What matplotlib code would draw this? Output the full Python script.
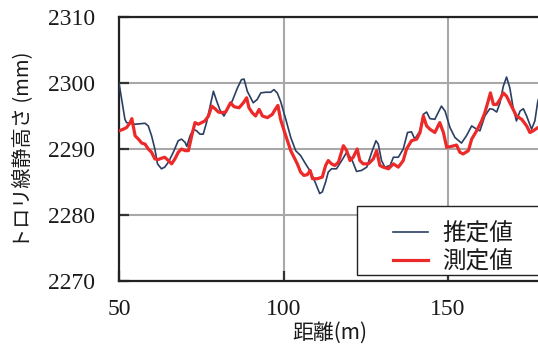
import matplotlib
matplotlib.use("Agg")
import matplotlib.pyplot as plt
from matplotlib.patches import Rectangle

# Estimated contact-wire height along the line
est_x = [50.0, 51.8, 52.3, 54.9, 57.9, 58.9, 59.9, 60.9, 61.7, 62.9, 63.9, 65.0, 66.5, 68.0,
         69.0, 70.1, 70.6, 71.6, 72.6, 73.6, 74.6, 75.6, 76.6, 77.7, 78.7, 79.7, 80.7, 81.9,
         82.9, 84.4, 86.0, 87.2, 88.0, 89.0, 90.8, 92.0, 93.1, 94.6, 96.1, 97.1, 98.1, 99.1,
         100.7, 102.2, 103.7, 105.2, 106.7, 108.3, 109.8, 111.0, 111.8, 112.8, 113.6, 114.6,
         116.1, 117.7, 119.2, 120.7, 122.2, 123.7, 125.3, 126.8, 128.1, 128.8, 129.8, 130.8,
         132.4, 133.4, 134.9, 136.4, 137.7, 138.9, 139.9, 141.5, 142.5, 143.5, 144.5, 146.0,
         148.0, 149.1, 150.6, 152.1, 154.1, 155.6, 157.2, 158.7, 159.7, 161.2, 162.7, 163.7,
         164.8, 165.8, 166.8, 167.8, 168.8, 169.8, 170.8, 171.9, 172.9, 173.9, 175.4, 176.4,
         177.3, 178.5]
est_y = [2300.0, 2294.5, 2294.0, 2293.75, 2293.9, 2293.5, 2292.0, 2290.0, 2287.75, 2287.0,
         2287.25, 2288.0, 2289.5, 2291.25, 2291.5, 2291.0, 2290.4, 2292.0, 2293.0, 2292.75,
         2292.25, 2292.25, 2294.0, 2296.5, 2298.75, 2297.25, 2295.9, 2295.0, 2296.0, 2297.25,
         2299.25, 2300.5, 2300.6, 2298.75, 2297.0, 2297.5, 2298.5, 2298.6, 2298.6, 2299.0,
         2298.5, 2297.25, 2294.5, 2291.75, 2289.75, 2289.0, 2287.75, 2286.5, 2284.75, 2283.25,
         2283.5, 2285.0, 2286.5, 2287.0, 2287.0, 2288.25, 2289.5, 2288.5, 2286.6, 2286.75,
         2287.25, 2289.5, 2291.25, 2290.75, 2288.25, 2287.25, 2287.5, 2288.75, 2288.75, 2290.0,
         2292.5, 2292.6, 2291.5, 2292.75, 2295.25, 2295.6, 2294.6, 2294.5, 2296.5, 2295.75,
         2293.25, 2291.75, 2290.9, 2292.0, 2293.5, 2293.0, 2292.75, 2295.0, 2296.1, 2296.0,
         2295.6, 2297.0, 2299.5, 2300.9, 2299.25, 2296.25, 2294.25, 2295.75, 2296.1, 2295.0,
         2293.0, 2294.25, 2297.25, 2299.0]

# Measured contact-wire height
meas_x = [50.0, 51.3, 52.3, 53.4, 53.9, 54.9, 55.9, 56.9, 57.9, 58.9, 59.9, 60.9, 61.9, 62.9,
          63.9, 65.0, 66.0, 67.0, 68.0, 69.0, 70.1, 71.1, 72.1, 73.1, 74.1, 75.1, 76.1, 77.2,
          78.2, 79.2, 80.2, 81.2, 82.4, 83.9, 85.0, 86.5, 87.8, 88.8, 89.5, 90.5, 91.5, 92.6,
          93.6, 95.1, 96.6, 97.6, 98.3, 99.1, 100.2, 101.2, 102.2, 103.2, 104.2, 105.2, 106.2,
          107.2, 108.1, 108.8, 110.3, 111.8, 112.8, 113.6, 114.6, 115.6, 116.7, 118.2, 119.2,
          120.2, 121.2, 122.4, 123.2, 124.2, 125.8, 127.3, 128.3, 129.3, 130.3, 131.9, 133.4,
          134.9, 136.4, 137.4, 138.9, 140.5, 141.5, 142.5, 143.5, 144.5, 146.0, 147.5, 148.6,
          149.6, 151.1, 152.6, 153.6, 154.6, 156.2, 157.2, 158.7, 160.2, 161.2, 162.2, 162.9,
          163.8, 164.8, 165.8, 166.8, 167.8, 168.8, 169.8, 170.8, 172.4, 173.9, 174.9, 175.9,
          177.3, 178.5]
meas_y = [2292.75, 2293.0, 2293.25, 2294.0, 2294.6, 2292.0, 2291.5, 2290.9, 2290.75, 2290.0,
          2289.5, 2288.5, 2288.4, 2288.6, 2288.75, 2288.25, 2287.75, 2288.5, 2289.5, 2290.0,
          2289.75, 2289.75, 2292.0, 2294.0, 2293.75, 2294.0, 2294.25, 2295.0, 2296.5, 2296.1,
          2295.6, 2295.5, 2295.6, 2297.0, 2296.4, 2296.25, 2297.0, 2297.75, 2296.25, 2295.5,
          2295.0, 2296.0, 2295.0, 2294.75, 2295.25, 2296.1, 2296.6, 2294.5, 2292.75, 2291.25,
          2289.75, 2288.75, 2287.75, 2286.5, 2286.0, 2286.1, 2286.75, 2285.5, 2285.5, 2285.75,
          2287.5, 2288.25, 2287.75, 2287.5, 2288.0, 2290.5, 2289.75, 2288.25, 2288.75, 2290.0,
          2288.25, 2287.75, 2287.75, 2288.5, 2289.75, 2287.5, 2287.25, 2287.0, 2287.75, 2287.25,
          2288.25, 2290.0, 2291.25, 2291.5, 2292.5, 2295.0, 2293.5, 2293.0, 2292.5, 2294.0,
          2292.5, 2290.25, 2290.4, 2290.6, 2289.5, 2289.25, 2289.75, 2291.5, 2292.75, 2294.25,
          2295.5, 2297.25, 2298.5, 2296.75, 2296.75, 2297.5, 2298.5, 2298.0, 2297.0, 2296.0,
          2295.0, 2294.5, 2293.5, 2292.5, 2292.75, 2293.25, 2293.5]

x_ticks = [50, 100, 150]
y_ticks = [2270, 2280, 2290, 2300, 2310]
series_labels = ["推定値", "測定値"]
x_label = "距離(m)"
y_label = "トロリ線静高さ (mm)"

W, H = 538, 347
fig = plt.figure(figsize=(W / 100, H / 100), dpi=100)
ax_left, ax_top, ax_bottom = 119, 17, 281
x_min, x_max = 50, 180
px_per_unit = (448 - 119) / 100.0
ax_w = (x_max - x_min) * px_per_unit
ax = fig.add_axes([ax_left / W, 1 - ax_bottom / H, ax_w / W, (ax_bottom - ax_top) / H])

ax.plot(est_x, est_y, color="#2b3f63", lw=1.2, zorder=3)
ax.plot(meas_x, meas_y, color="#ec2a2a", lw=2.3, zorder=4)

ax.set_xlim(x_min, x_max)
ax.set_ylim(2270, 2310)
ax.set_xticks(x_ticks)
ax.set_yticks(y_ticks)
ax.grid(True, color="#a8a8a8", lw=1.5)
ax.set_axisbelow(True)
for s in ["left", "top", "bottom"]:
    ax.spines[s].set_linewidth(1.6)
    ax.spines[s].set_color("#222222")
ax.spines["right"].set_visible(False)
ax.tick_params(direction="in", length=7, width=1.6, color="#333333")

serif = ["Liberation Serif", "DejaVu Serif"]
for lab in ax.get_xticklabels() + ax.get_yticklabels():
    lab.set_family(serif)
    lab.set_fontsize(17)
    lab.set_color("#1a1a1a")
ax.tick_params(axis="x", pad=13)
ax.tick_params(axis="y", pad=17)

cjk = ["Noto Sans CJK JP", "DejaVu Sans"]
fig.text(330 / W, 1 - 333 / H, x_label, family=cjk, fontsize=15, ha="center", va="center",
         color="#1a1a1a")
fig.text(23 / W, 1 - 150 / H, y_label, family=cjk, fontsize=14.5, rotation=90,
         ha="center", va="center", color="#1a1a1a")

# Legend box
fig.patches.append(Rectangle((357 / W, 1 - 275 / H), 200 / W, 69 / H, transform=fig.transFigure,
                             facecolor="white", edgecolor="#222222", lw=1.0, zorder=5))
leg = fig.legend(ax.lines, series_labels, loc="upper left",
                 bbox_to_anchor=(376 / W, 1 - 206 / H), frameon=False,
                 prop={"family": cjk, "size": 17}, handlelength=1.5,
                 handletextpad=0.6, labelspacing=0.2, borderpad=0.2)
leg.set_zorder(6)
for t in leg.get_texts():
    t.set_color("#1a1a1a")

fig.savefig("out.png", dpi=100)
